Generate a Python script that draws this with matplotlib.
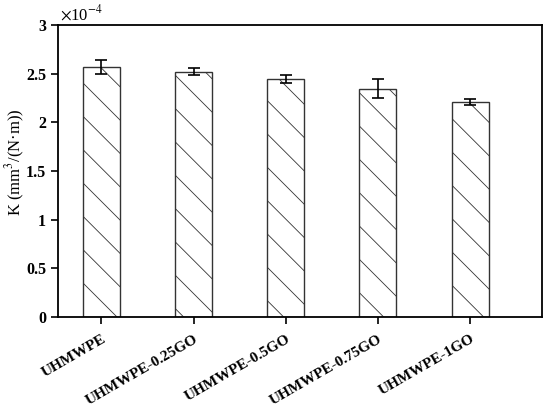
import matplotlib
matplotlib.use('Agg')
import matplotlib.pyplot as plt
import numpy as np

samples = ['UHMWPE', 'UHMWPE-0.25GO', 'UHMWPE-0.5GO', 'UHMWPE-0.75GO', 'UHMWPE-1GO']
k_values = [2.57, 2.52, 2.445, 2.345, 2.205]  # x 1e-4
k_errors = [0.075, 0.037, 0.046, 0.10, 0.03]

plt.rcParams['font.family'] = 'Liberation Serif'
plt.rcParams['mathtext.fontset'] = 'stix'
plt.rcParams['hatch.linewidth'] = 0.6
plt.rcParams['hatch.color'] = '#555555'

fig = plt.figure(figsize=(5.5, 4.11), dpi=100)
ax = fig.add_axes([58/550, 1 - 317/411, 484/550, 292/411])

x = np.arange(len(samples))
ax.bar(x, k_values, width=0.4, color='white', edgecolor='#333333',
       linewidth=1.0, hatch='\\')
ax.errorbar(x, k_values, yerr=k_errors, fmt='none', ecolor='black',
            elinewidth=1.2, capsize=4, capthick=1.2)

ax.set_xlim(-0.47, 4.78)
ax.set_ylim(0, 3)
ax.set_yticks([0, 0.5, 1, 1.5, 2, 2.5, 3])
ax.set_yticklabels(['0', '0.5', '1', '1.5', '2', '2.5', '3'],
                   fontsize=11.5, fontweight='bold')
ax.set_xticks(x)
ax.set_xticklabels(samples, rotation=30, ha='right', rotation_mode='anchor',
                   fontsize=11, fontweight='bold')
ax.tick_params(direction='out', length=5, width=1.2)
ax.tick_params(axis='x', pad=6)
for s in ax.spines.values():
    s.set_linewidth(1.3)

ax.set_ylabel('K (mm$^3$/(N·m))', fontsize=12)
ax.yaxis.set_label_coords(-0.065, 0.53)
ax.text(0.005, 1.005, r'$\times$10$^{-4}$', transform=ax.transAxes,
        fontsize=12, ha='left', va='bottom')

fig.savefig('out.png', dpi=100)
